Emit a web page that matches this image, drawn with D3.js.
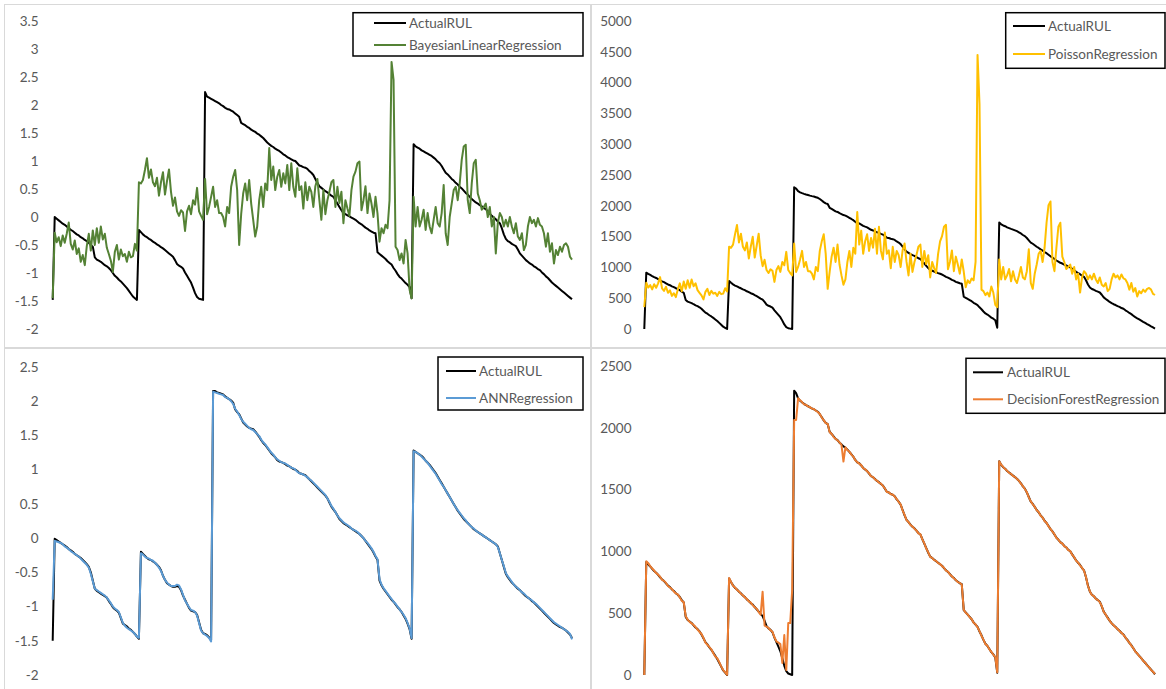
<!DOCTYPE html>
<html><head><meta charset="utf-8">
<script src="https://cdn.jsdelivr.net/npm/d3@7"></script>
<style>
html,body{margin:0;padding:0;background:#fff;}
svg{display:block;font-family:Lato,"Liberation Sans",sans-serif;}
</style></head><body>
<svg id="chart" width="1166" height="689"></svg>
<script>
// Remaining useful life per time step (4 engine runs), standardized units
const rulScaled = [
-1.48,0.00,-0.03,-0.06,-0.09,-0.12,-0.14,-0.17,-0.20,-0.23,-0.25,-0.28,-0.31,-0.33,-0.36,-0.38,-0.41,-0.43,-0.46,-0.50,
-0.53,-0.72,-0.76,-0.78,-0.80,-0.83,-0.86,-0.88,-0.91,-0.95,-1.00,-1.05,-1.08,-1.12,-1.15,-1.19,-1.23,-1.27,-1.32,-1.37,
-1.42,-1.45,-1.48,-0.23,-0.27,-0.31,-0.34,-0.36,-0.39,-0.41,-0.44,-0.46,-0.49,-0.51,-0.54,-0.56,-0.59,-0.62,-0.65,-0.68,
-0.71,-0.77,-0.84,-0.87,-0.89,-0.92,-0.99,-1.05,-1.11,-1.17,-1.26,-1.36,-1.43,-1.46,-1.47,-1.48,2.23,2.15,2.13,2.11,
2.09,2.07,2.05,2.03,2.00,1.98,1.95,1.93,1.92,1.90,1.88,1.85,1.82,1.79,1.68,1.66,1.64,1.61,1.59,1.56,
1.54,1.52,1.49,1.47,1.44,1.41,1.37,1.33,1.30,1.27,1.25,1.22,1.20,1.18,1.15,1.12,1.10,1.07,1.05,1.03,
1.01,1.00,0.96,0.92,0.91,0.89,0.88,0.86,0.82,0.79,0.75,0.68,0.61,0.55,0.52,0.49,0.46,0.44,0.41,0.38,
0.36,0.30,0.24,0.18,0.12,0.07,0.05,0.03,0.01,-0.01,-0.03,-0.05,-0.08,-0.11,-0.13,-0.16,-0.19,-0.21,-0.24,-0.26,
-0.28,-0.29,-0.63,-0.66,-0.69,-0.72,-0.75,-0.79,-0.82,-0.85,-0.91,-0.96,-1.02,-1.07,-1.10,-1.14,-1.18,-1.21,-1.25,-1.45,
1.30,1.26,1.24,1.22,1.19,1.17,1.15,1.13,1.11,1.09,1.06,1.03,0.99,0.96,0.91,0.85,0.79,0.76,0.72,0.68,
0.65,0.61,0.58,0.54,0.51,0.47,0.43,0.40,0.36,0.32,0.29,0.26,0.24,0.21,0.19,0.16,0.14,0.10,0.06,0.02,
-0.01,-0.04,-0.08,-0.11,-0.20,-0.31,-0.39,-0.43,-0.45,-0.48,-0.50,-0.52,-0.58,-0.65,-0.69,-0.73,-0.77,-0.80,-0.83,-0.85,
-0.88,-0.90,-0.93,-0.95,-0.99,-1.02,-1.06,-1.09,-1.13,-1.17,-1.20,-1.23,-1.26,-1.29,-1.32,-1.35,-1.38,-1.41,-1.44,-1.47];

const bayesian = [
-1.45,-0.28,-0.45,-0.36,-0.52,-0.33,-0.46,-0.30,-0.10,-0.48,-0.58,-0.42,-0.66,-0.56,-0.80,-0.68,-0.86,-0.52,-0.30,-0.60,
-0.24,-0.50,-0.20,-0.46,-0.17,-0.40,-0.30,-0.55,-0.66,-0.78,-0.98,-0.62,-0.50,-0.76,-0.58,-0.70,-0.66,-0.80,-0.62,-0.72,
-0.70,-0.48,-0.60,0.62,0.60,0.66,0.84,1.05,0.70,0.85,0.62,0.55,0.70,0.38,0.62,0.80,0.40,0.64,0.85,0.45,
0.20,0.35,0.10,0.02,0.12,0.08,-0.25,0.10,0.20,0.05,0.30,0.22,0.52,0.10,0.02,-0.05,0.68,0.05,0.18,0.36,
0.54,0.18,0.30,0.07,0.07,0.00,-0.17,0.18,0.07,0.54,0.72,0.84,0.48,-0.50,0.05,0.42,0.60,0.30,0.66,0.24,
-0.05,-0.35,-0.17,0.30,0.54,0.18,0.60,0.48,1.23,0.66,0.90,0.48,0.72,0.84,0.54,0.78,0.60,0.93,0.48,0.96,
0.54,0.36,0.87,0.48,0.55,0.15,0.62,0.30,0.54,0.45,0.18,0.55,0.68,0.30,-0.05,0.48,0.05,0.30,0.45,0.62,
0.66,0.18,0.54,0.25,0.45,-0.11,0.30,0.15,0.02,0.48,0.72,0.81,0.96,0.99,0.12,0.30,0.55,0.07,0.42,0.24,
0.00,0.36,0.06,-0.44,-0.20,-0.29,-0.14,-0.20,0.30,2.77,2.45,-0.53,-0.59,-0.77,-0.65,-0.83,-0.41,-0.65,-1.30,-1.45,
0.36,-0.17,0.18,-0.17,-0.05,0.13,-0.23,0.07,-0.17,-0.29,-0.05,0.18,-0.11,-0.17,0.07,0.57,-0.29,-0.50,0.00,0.24,
0.48,0.54,0.30,0.60,1.02,1.26,1.29,0.30,0.07,0.60,0.96,1.02,0.42,0.30,0.13,0.18,0.24,0.00,0.18,-0.17,
0.00,-0.65,-0.11,0.07,0.00,-0.17,-0.05,-0.17,0.00,-0.17,-0.29,-0.11,-0.35,-0.41,-0.29,-0.59,-0.50,-0.17,0.00,-0.11,
-0.05,-0.17,-0.02,-0.14,-0.17,-0.29,-0.53,-0.29,-0.62,-0.47,-0.83,-0.59,-0.68,-0.53,-0.62,-0.50,-0.47,-0.53,-0.71,-0.76];

// Remaining useful life in raw units
const rulRaw = [
0,915,896,878,859,841,828,810,791,773,760,742,723,711,692,680,662,649,631,606,
587,470,445,433,421,402,384,371,353,328,297,266,248,223,204,180,155,130,99,68,
37,19,0,780,750,725,705,692,674,661,643,630,612,599,581,569,550,532,513,494,
476,439,396,377,365,346,303,266,229,192,136,74,31,12,6,0,2300,2280,2238,2219,
2206,2194,2184,2175,2165,2157,2150,2140,2130,2110,2085,2060,2040,2030,1968,1950,1930,1910,1900,1880,
1866,1850,1840,1823,1805,1786,1766,1740,1720,1713,1695,1675,1662,1650,1630,1610,1600,1585,1570,1560,
1545,1533,1508,1483,1477,1465,1458,1446,1421,1403,1378,1335,1292,1255,1236,1217,1199,1187,1168,1149,
1137,1100,1063,1026,989,958,946,933,921,908,896,884,865,847,834,816,797,785,766,754,
742,735,525,507,488,470,451,426,408,389,352,321,284,253,235,210,185,167,142,19,
1730,1700,1681,1669,1650,1638,1625,1613,1601,1588,1570,1551,1526,1508,1477,1440,1403,1384,1360,1335,
1316,1292,1273,1248,1230,1205,1180,1162,1137,1112,1094,1075,1063,1044,1032,1013,1001,976,952,927,
908,890,865,847,791,723,674,649,637,618,606,593,556,513,488,464,439,420,402,389,
371,358,340,328,303,284,260,241,216,192,173,155,136,117,99,80,62,43,25,6];

const poisson = [
355,751,673,713,643,727,669,741,842,661,619,686,588,627,538,581,518,643,741,611,
770,652,790,669,805,695,741,631,588,545,480,603,652,552,619,574,588,538,603,566,
574,661,611,1335,1319,1370,1537,1690,1405,1547,1335,1276,1405,1145,1335,1498,1160,1352,1547,1198,
1020,1123,957,909,969,945,765,957,1020,927,1088,1034,1252,957,909,870,1388,927,1007,1130,
1268,1007,1088,939,939,898,805,1007,939,1268,1423,1537,1221,652,927,1175,1319,1088,1370,1047,
870,718,805,1088,1268,1007,1319,1221,1900,1370,1597,1221,1423,1537,1268,1479,1319,1628,1221,1660,
1268,1130,1567,1221,1276,988,1335,1088,1268,1198,1007,1276,1388,1088,870,1221,927,1088,1198,1335,
1370,1007,1268,1054,1198,837,1088,988,909,1221,1423,1507,1660,1691,969,1088,1276,939,1175,1047,
898,1130,933,678,790,746,821,790,1088,4450,3650,639,615,549,592,528,691,592,391,355,
1130,805,1007,805,870,973,775,939,805,746,870,1007,837,805,939,1293,746,652,898,1047,
1221,1268,1088,1319,1725,2011,2070,1088,939,1319,1660,1725,1175,1088,973,1007,1047,898,1007,805,
898,592,837,939,898,805,870,805,898,805,746,837,718,691,746,615,652,805,898,837,
870,805,886,821,805,746,639,746,603,665,528,615,581,639,603,652,665,639,570,552];

const annRul = [
-1.50,-0.01,-0.03,-0.05,-0.07,-0.09,-0.11,-0.13,-0.16,-0.18,-0.20,-0.23,-0.25,-0.27,-0.29,-0.32,-0.35,-0.38,-0.42,-0.50,
-0.62,-0.74,-0.77,-0.79,-0.81,-0.83,-0.85,-0.87,-0.92,-0.96,-1.01,-1.04,-1.06,-1.09,-1.17,-1.25,-1.27,-1.29,-1.32,-1.34,
-1.37,-1.40,-1.44,-1.47,-0.20,-0.23,-0.26,-0.29,-0.31,-0.32,-0.34,-0.36,-0.39,-0.42,-0.47,-0.55,-0.61,-0.66,-0.68,-0.70,
-0.71,-0.71,-0.70,-0.71,-0.76,-0.84,-0.90,-0.96,-1.02,-1.06,-1.07,-1.08,-1.12,-1.23,-1.34,-1.39,-1.40,-1.42,-1.45,-1.49,
2.15,2.15,2.13,2.12,2.11,2.10,2.07,2.05,2.03,2.01,1.98,1.88,1.84,1.81,1.75,1.69,1.66,1.63,1.61,1.60,
1.59,1.56,1.52,1.48,1.43,1.39,1.36,1.32,1.28,1.24,1.21,1.18,1.14,1.12,1.11,1.10,1.08,1.06,1.05,1.03,
1.01,1.00,0.98,0.95,0.94,0.93,0.92,0.89,0.86,0.83,0.80,0.77,0.74,0.71,0.68,0.65,0.62,0.58,0.52,0.46,
0.42,0.38,0.33,0.28,0.25,0.22,0.20,0.18,0.16,0.14,0.12,0.10,0.08,0.06,0.03,0.00,-0.04,-0.08,-0.12,-0.16,
-0.21,-0.27,-0.32,-0.62,-0.69,-0.74,-0.78,-0.82,-0.86,-0.90,-0.93,-0.97,-1.01,-1.04,-1.08,-1.13,-1.18,-1.25,-1.33,-1.47,
1.28,1.26,1.24,1.22,1.20,1.17,1.13,1.10,1.07,1.03,0.99,0.95,0.90,0.85,0.80,0.75,0.70,0.65,0.60,0.55,
0.50,0.45,0.40,0.36,0.32,0.28,0.25,0.22,0.19,0.16,0.13,0.11,0.09,0.07,0.05,0.03,0.01,-0.01,-0.03,-0.05,
-0.07,-0.09,-0.12,-0.22,-0.32,-0.42,-0.52,-0.57,-0.61,-0.65,-0.68,-0.71,-0.74,-0.76,-0.79,-0.82,-0.85,-0.87,-0.89,-0.92,
-0.94,-0.97,-1.00,-1.03,-1.06,-1.09,-1.12,-1.15,-1.18,-1.21,-1.24,-1.26,-1.28,-1.30,-1.31,-1.33,-1.35,-1.38,-1.41,-1.46];

const ann = [
-0.90,-0.04,-0.05,-0.06,-0.07,-0.09,-0.12,-0.14,-0.16,-0.19,-0.21,-0.23,-0.25,-0.27,-0.30,-0.33,-0.36,-0.39,-0.43,-0.52,
-0.63,-0.74,-0.76,-0.78,-0.80,-0.82,-0.84,-0.87,-0.91,-0.95,-1.00,-1.03,-1.05,-1.08,-1.16,-1.24,-1.28,-1.31,-1.33,-1.35,
-1.37,-1.40,-1.44,-1.46,-0.22,-0.24,-0.27,-0.29,-0.30,-0.32,-0.33,-0.36,-0.39,-0.43,-0.48,-0.55,-0.61,-0.65,-0.68,-0.70,
-0.70,-0.70,-0.68,-0.69,-0.75,-0.83,-0.91,-0.96,-1.01,-1.05,-1.06,-1.08,-1.13,-1.24,-1.35,-1.39,-1.41,-1.43,-1.46,-1.51,
2.14,2.13,2.12,2.11,2.10,2.09,2.06,2.05,2.03,2.00,1.96,1.89,1.85,1.80,1.74,1.70,1.67,1.64,1.61,1.59,
1.58,1.55,1.52,1.49,1.44,1.40,1.37,1.33,1.29,1.25,1.22,1.18,1.15,1.13,1.11,1.10,1.09,1.07,1.05,1.03,
1.02,1.00,0.97,0.95,0.94,0.93,0.91,0.89,0.86,0.84,0.81,0.78,0.75,0.72,0.69,0.66,0.63,0.58,0.53,0.47,
0.43,0.38,0.33,0.29,0.26,0.23,0.21,0.19,0.17,0.14,0.12,0.11,0.09,0.06,0.03,0.00,-0.04,-0.07,-0.11,-0.15,
-0.20,-0.26,-0.31,-0.60,-0.68,-0.73,-0.77,-0.81,-0.85,-0.89,-0.93,-0.96,-1.00,-1.04,-1.08,-1.12,-1.17,-1.24,-1.32,-1.46,
1.27,1.26,1.24,1.22,1.19,1.16,1.13,1.10,1.06,1.02,0.98,0.94,0.89,0.84,0.79,0.75,0.70,0.65,0.60,0.55,
0.50,0.45,0.41,0.37,0.33,0.29,0.26,0.22,0.19,0.16,0.14,0.11,0.09,0.07,0.05,0.03,0.01,-0.01,-0.03,-0.05,
-0.07,-0.09,-0.13,-0.22,-0.32,-0.41,-0.51,-0.56,-0.60,-0.64,-0.68,-0.71,-0.73,-0.76,-0.79,-0.81,-0.84,-0.87,-0.89,-0.91,
-0.94,-0.96,-0.99,-1.02,-1.05,-1.08,-1.11,-1.14,-1.17,-1.20,-1.23,-1.25,-1.27,-1.29,-1.31,-1.33,-1.35,-1.37,-1.40,-1.48];

const forest = [
0,920,905,880,862,845,825,812,795,770,762,745,720,708,695,676,660,652,628,600,
590,475,448,430,418,405,388,368,350,332,300,262,245,226,208,176,150,135,104,70,
40,22,2,785,752,722,708,690,676,658,645,628,615,596,585,566,548,536,510,488,
674,400,392,380,362,350,305,272,262,250,98,324,40,420,420,690,2063,2063,2240,2222,
2208,2190,2186,2172,2168,2155,2152,2138,2128,2112,2083,2062,2038,2032,1965,1952,1926,1912,1898,1882,
1862,1727,1842,1820,1808,1783,1768,1738,1722,1710,1698,1672,1665,1648,1632,1607,1603,1582,1572,1557,
1548,1530,1510,1480,1479,1462,1460,1443,1424,1400,1380,1332,1295,1252,1238,1214,1201,1184,1170,1146,
1139,1097,1066,1023,992,955,948,930,923,905,898,881,868,844,836,813,799,782,768,751,
745,732,528,504,490,467,453,423,410,386,355,318,286,250,238,207,188,164,145,22,
1730,1702,1684,1666,1652,1635,1627,1610,1603,1585,1572,1548,1528,1505,1479,1437,1405,1381,1362,1332,
1318,1289,1275,1245,1232,1202,1182,1159,1139,1109,1096,1072,1065,1041,1034,1010,1003,973,954,924,
910,887,867,844,793,720,676,646,639,615,608,590,558,510,490,461,441,417,404,386,
373,355,342,325,305,281,262,238,218,189,175,152,138,114,101,77,64,40,27,8];

// Tick labels of the four value axes
const ticksScaledTop = ["3.5","3","2.5","2","1.5","1","0.5","0","-0.5","-1","-1.5","-2"];
const ticksRawTop = ["5000","4500","4000","3500","3000","2500","2000","1500","1000","500","0"];
const ticksScaledBottom = ["2.5","2","1.5","1","0.5","0","-0.5","-1","-1.5","-2"];
const ticksRawBottom = ["2500","2000","1500","1000","500","0"];

const seriesNames = ["ActualRUL","BayesianLinearRegression","PoissonRegression","ANNRegression","DecisionForestRegression"];
const colors = {ActualRUL:"#000000", BayesianLinearRegression:"#548235", PoissonRegression:"#FFC000",
                ANNRegression:"#5B9BD5", DecisionForestRegression:"#ED7D31"};

const svg = d3.select("#chart");
const font = 'Lato,"Liberation Sans",sans-serif';

const panels = [
  {frame:[4.5,4.5,586,343], xr:[52.7,572], yr:[329,21], dom:[-2,3.5], ticks:ticksScaledTop, labelX:38.5,
   lines:[[seriesNames[0], rulScaled],[seriesNames[1], bayesian]],
   legend:{x:353,y:12.7,w:230,h:43.3,lx:[374,406],rows:[23,45],tx:409}},
  {frame:[591.5,4.5,580,343], xr:[644.3,1155], yr:[329,21], dom:[0,5000], ticks:ticksRawTop, labelX:631.5,
   lines:[[seriesNames[0], rulRaw],[seriesNames[2], poisson]],
   legend:{x:1005.7,y:12.7,w:159.3,h:55.6,lx:[1013,1045],rows:[26,54],tx:1048}},
  {frame:[4.5,348.5,586,345], xr:[52.7,572], yr:[675,367], dom:[-2,2.5], ticks:ticksScaledBottom, labelX:38.5,
   lines:[[seriesNames[0], annRul],[seriesNames[3], ann]],
   legend:{x:438,y:357,w:145,h:53,lx:[446,476],rows:[371,398],tx:479}},
  {frame:[591.5,348.5,580,345], xr:[644.3,1155], yr:[675,366], dom:[0,2500], ticks:ticksRawBottom, labelX:631.5,
   lines:[[seriesNames[0], rulRaw],[seriesNames[4], forest]],
   legend:{x:966,y:358.3,w:199,h:55,lx:[973,1003],rows:[372.3,399.3],tx:1007}}
];

panels.forEach(p => {
  const g = svg.append("g");
  g.append("rect").attr("x",p.frame[0]).attr("y",p.frame[1]).attr("width",p.frame[2]).attr("height",p.frame[3])
    .attr("fill","#fff").attr("stroke","#d9d9d9").attr("stroke-width",1);

  const n = p.lines[0][1].length;
  const x = d3.scaleLinear().domain([0, n-1]).range(p.xr);
  const y = d3.scaleLinear().domain(p.dom).range(p.yr);

  const axis = d3.axisLeft(y)
    .tickValues(p.ticks.map(Number))
    .tickFormat((d,i) => p.ticks[i])
    .tickSize(0).tickPadding(0);
  const ag = g.append("g").attr("transform",`translate(${p.labelX},0)`).call(axis);
  ag.select(".domain").remove();
  ag.selectAll("text").attr("fill","#595959").attr("font-size","13.5px").attr("font-family",font);

  const line = d3.line().x((d,i)=>x(i)).y(d=>y(d));
  p.lines.forEach(([name, vals]) => {
    g.append("path").datum(vals).attr("d",line)
      .attr("fill","none").attr("stroke",colors[name]).attr("stroke-width",2)
      .attr("stroke-linejoin","round");
  });

  const L = p.legend;
  const lg = g.append("g");
  lg.append("rect").attr("x",L.x).attr("y",L.y).attr("width",L.w).attr("height",L.h)
    .attr("fill","#fff").attr("stroke","#000").attr("stroke-width",1.5);
  p.lines.forEach(([name], k) => {
    lg.append("line").attr("x1",L.lx[0]).attr("x2",L.lx[1]).attr("y1",L.rows[k]).attr("y2",L.rows[k])
      .attr("stroke",colors[name]).attr("stroke-width",2);
    lg.append("text").attr("x",L.tx).attr("y",L.rows[k]).attr("dy","0.35em")
      .attr("fill","#595959").attr("font-size","13.5px").attr("font-family",font).text(name);
  });
});
</script>
</body></html>
